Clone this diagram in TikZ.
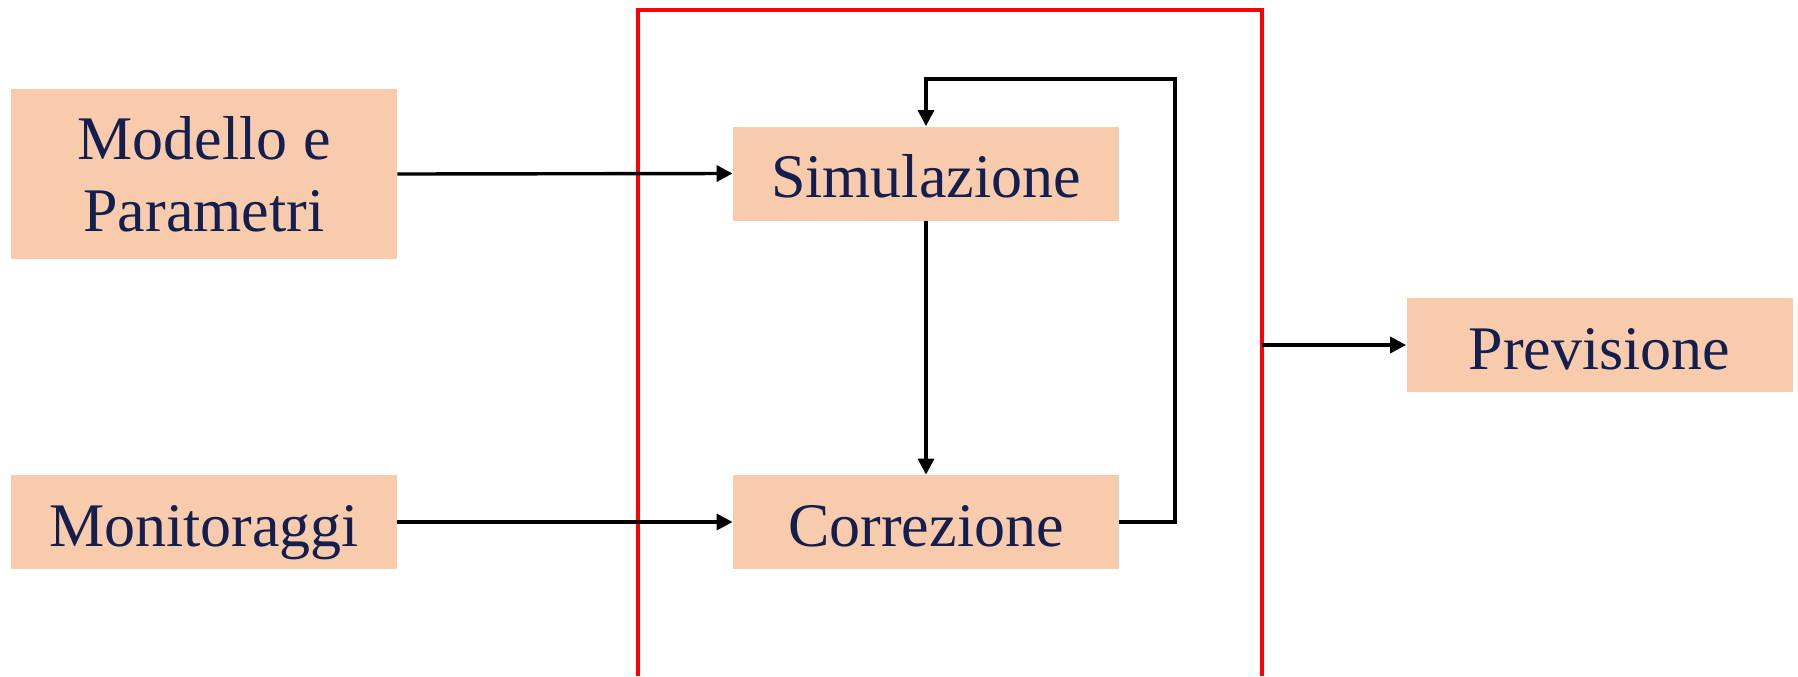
\documentclass[tikz,border=0pt]{standalone}
\usepackage{fontspec}
\setmainfont{Liberation Serif}
\usetikzlibrary{arrows.meta}
\definecolor{boxfill}{HTML}{F7CBAC}
\definecolor{navy}{HTML}{141F50}
\definecolor{frame}{HTML}{FF0000}
\begin{document}
\begin{tikzpicture}[x=0.5pt,y=-0.5pt,
  blk/.style={fill=boxfill, draw=none, text=navy, minimum width=193pt, minimum height=47pt,
    inner sep=0pt, align=center, font=\fontsize{31}{36}\selectfont},
  one/.style={text height=24pt, text depth=0pt},
  conn/.style={line width=1.7pt, -{Triangle[length=8pt,width=8pt]}}]
\useasboundingbox (0,0) rectangle (1798,676);
% red frame (open at bottom)
\draw[frame, line width=1.7pt] (638,676) -- (638,10) -- (1262,10) -- (1262,676);
\node[blk, minimum height=85pt] (mp) at (204,174) {Modello e\\Parametri};
\node[blk, one] (mon) at (204,522) {Monitoraggi};
\node[blk, one] (sim) at (926,173.5) {Simulazione};
\node[blk, one] (cor) at (926,522) {Correzione};
\node[blk, one] (prev) at (1599.5,345) {Previsione};
\coordinate (out) at (1262,345);
\coordinate (loopR) at (1175,79);
\draw[conn] (mp.east) -- (sim.west);
\draw[conn] (mon.east) -- (cor.west);
\draw[conn] (sim.south) -- (cor.north);
\draw[conn] (cor.east) -| (loopR) -| (sim.north);
\draw[conn] (out) -- (prev.west);
\end{tikzpicture}
\end{document}
